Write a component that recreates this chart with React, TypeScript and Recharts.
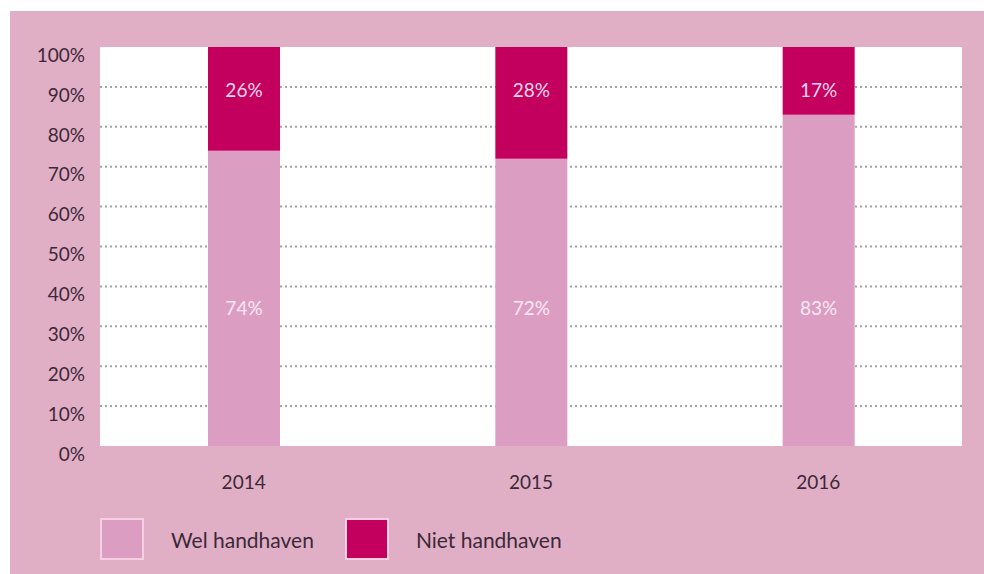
import React from 'react';
import { BarChart, Bar, XAxis, YAxis, CartesianGrid, LabelList, Legend } from 'recharts';

const years = ['2014', '2015', '2016'];
const welHandhaven = [74, 72, 83];
const nietHandhaven = [26, 28, 17];
const yTicks = [0, 10, 20, 30, 40, 50, 60, 70, 80, 90, 100];
const gridValues = [10, 20, 30, 40, 50, 60, 70, 80, 90];
const Y_MAX = 100;

const data = years.map((y, i) => ({ year: y, wel: welHandhaven[i], niet: nietHandhaven[i] }));

const WEL = '#dc9dc2';
const NIET = '#c4005f';
const PANEL = '#e0afc6';
const TEXT = '#3d2837';
const FONT = 'Lato, "Open Sans", sans-serif';

const WelLabel = (props: any) => {
  const { x, y, width, height, value } = props;
  return (
    <text x={x + width / 2} y={y + height - 139} textAnchor="middle" dominantBaseline="central"
      fill="#fbe8f2" fontSize={19} fontFamily={FONT}>{value}%</text>
  );
};
const NietLabel = (props: any) => {
  const { x, y, width, value } = props;
  return (
    <text x={x + width / 2} y={y + 42} textAnchor="middle" dominantBaseline="central"
      fill="#f8d8ea" fontSize={19} fontFamily={FONT}>{value}%</text>
  );
};

const LegendContent = () => {
  const items = [
    { name: 'Wel handhaven', color: WEL },
    { name: 'Niet handhaven', color: NIET },
  ];
  return (
    <div style={{ display: 'flex', alignItems: 'center', fontFamily: FONT }}>
      {items.map((it, i) => (
        <div key={it.name} style={{ display: 'flex', alignItems: 'center', marginRight: i === 0 ? 31 : 0 }}>
          <div style={{ width: 40, height: 38, background: it.color, border: '2px solid #f6cfe2', boxSizing: 'content-box' }} />
          <span style={{ marginLeft: 27, fontSize: 21, color: TEXT }}>{it.name}</span>
        </div>
      ))}
    </div>
  );
};

const gridGen = (args: any) => {
  const { yAxis, offset } = args;
  if (yAxis && typeof yAxis.scale === 'function') return gridValues.map((v) => yAxis.scale(v));
  return gridValues.map((v) => offset.top + offset.height * (1 - v / Y_MAX));
};

export default function App() {
  return (
    <div style={{ position: 'fixed', left: 0, top: 0, width: '100vw', height: '100vh', background: '#fff', overflow: 'hidden' }}>
      <div style={{ position: 'absolute', left: 10, top: 11, right: 0, bottom: 0, background: PANEL }} />
      <div style={{ position: 'absolute', left: 0, top: 0 }}>
        <BarChart width={984} height={574} data={data} margin={{ top: 47, right: 22, left: 40, bottom: 56 }}>
          <CartesianGrid
            vertical={false}
            fill="#ffffff"
            fillOpacity={1}
            stroke="#a3a3a3"
            strokeWidth={2}
            strokeDasharray="2 3"
            horizontalCoordinatesGenerator={gridGen}
          />
          <XAxis dataKey="year" axisLine={false} tickLine={false} height={30} tickMargin={24}
            tick={{ fill: TEXT, fontSize: 19, fontFamily: FONT }} />
          <YAxis domain={[0, Y_MAX]} ticks={yTicks} interval={0} width={60} axisLine={false} tickLine={false}
            tickMargin={9} tickFormatter={(v: number) => `${v}%`}
            tick={{ fill: TEXT, fontSize: 19, fontFamily: FONT, dy: 8 }} />
          <Legend verticalAlign="bottom" align="left" content={<LegendContent />}
            wrapperStyle={{ left: 100, bottom: 14, width: 600 }} />
          <Bar dataKey="wel" name="Wel handhaven" stackId="a" fill={WEL} barSize={72} isAnimationActive={false}>
            <LabelList dataKey="wel" content={<WelLabel />} />
          </Bar>
          <Bar dataKey="niet" name="Niet handhaven" stackId="a" fill={NIET} barSize={72} isAnimationActive={false}>
            <LabelList dataKey="niet" content={<NietLabel />} />
          </Bar>
        </BarChart>
      </div>
    </div>
  );
}
